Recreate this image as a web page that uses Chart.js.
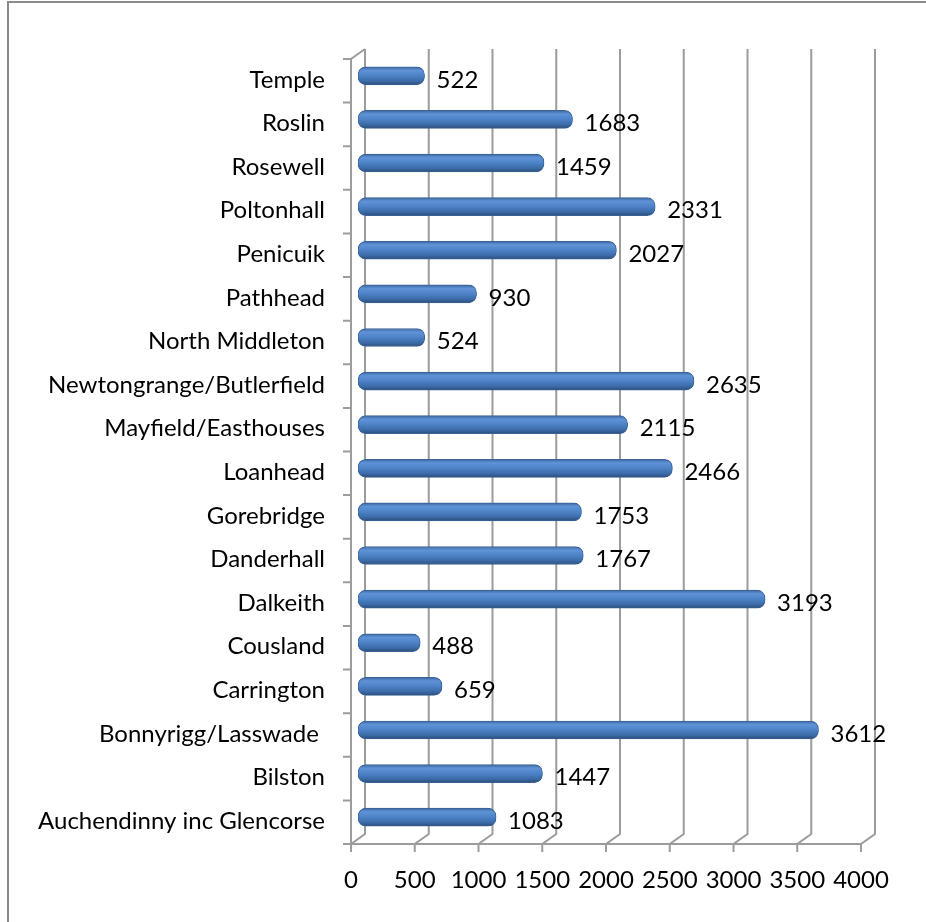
<!DOCTYPE html>
<html>
<head>
<meta charset="utf-8">
<script src="https://cdn.jsdelivr.net/npm/chart.js@4/dist/chart.umd.min.js"></script>
<style>
  html, body { margin: 0; padding: 0; background: #fff; }
  #wrap { width: 926px; height: 922px; position: relative; }
</style>
</head>
<body>
<div id="wrap"><canvas id="myChart" width="926" height="922"></canvas></div>
<script>
const places = ['Temple', 'Roslin', 'Rosewell', 'Poltonhall', 'Penicuik', 'Pathhead', 'North Middleton',
    'Newtongrange/Butlerfield', 'Mayfield/Easthouses', 'Loanhead', 'Gorebridge', 'Danderhall', 'Dalkeith',
    'Cousland', 'Carrington', 'Bonnyrigg/Lasswade ', 'Bilston', 'Auchendinny inc Glencorse'];
const counts = [522, 1683, 1459, 2331, 2027, 930, 524, 2635, 2115, 2466, 1753, 1767, 3193, 488, 659, 3612, 1447, 1083];
const xTicks = [0, 500, 1000, 1500, 2000, 2500, 3000, 3500, 4000];

const FONT = 'Lato, "Open Sans", sans-serif';
const FONT_SIZE = 24;
const DEPTH_X = 7, DEPTH_Y = 5;   // half depth of the 3d box

// back wall, floor and front axis lines of the 3d look
const boxPlugin = {
    id: 'box',
    beforeDatasetsDraw(chart) {
        const {ctx, chartArea: a, scales: {x, y}} = chart;
        ctx.save();
        // frame round the whole chart
        ctx.strokeStyle = '#8a8a8a';
        ctx.lineWidth = 2;
        ctx.strokeRect(8, 2, 940, 960);

        ctx.strokeStyle = '#9c9c9c';
        ctx.lineWidth = 2;
        ctx.beginPath();
        xTicks.forEach(v => {
            const px = x.getPixelForValue(v);
            ctx.moveTo(px + DEPTH_X, a.top - DEPTH_Y);
            ctx.lineTo(px + DEPTH_X, a.bottom - DEPTH_Y);
            ctx.lineTo(px - DEPTH_X, a.bottom + DEPTH_Y);
            ctx.lineTo(px - DEPTH_X, a.bottom + DEPTH_Y + 8);
        });
        const f0 = x.getPixelForValue(0) - DEPTH_X;
        const f1 = x.getPixelForValue(4000) - DEPTH_X;
        // front axes
        ctx.moveTo(f0 + 2 * DEPTH_X, a.top - DEPTH_Y);
        ctx.lineTo(f0, a.top + DEPTH_Y);
        ctx.lineTo(f0, a.bottom + DEPTH_Y);
        ctx.lineTo(f1, a.bottom + DEPTH_Y);
        // category ticks
        const band = (a.bottom - a.top) / places.length;
        for (let i = 0; i <= places.length; i++) {
            const py = a.top + DEPTH_Y + i * band;
            ctx.moveTo(f0 - 8, py);
            ctx.lineTo(f0, py);
        }
        ctx.stroke();
        ctx.restore();
    },
    afterDatasetsDraw(chart) {
        const {ctx, scales: {x, y}} = chart;
        ctx.save();
        ctx.font = FONT_SIZE + 'px ' + FONT;
        ctx.fillStyle = '#000';
        ctx.textBaseline = 'middle';
        ctx.textAlign = 'left';
        counts.forEach((v, i) => {
            ctx.fillText(String(v), x.getPixelForValue(v) + 12, y.getPixelForValue(i) + 4);
        });
        ctx.restore();
    }
};

function barFill(c) {
    const chart = c.chart;
    if (!chart.chartArea) return '#4f81bd';
    const yc = chart.scales.y.getPixelForValue(c.dataIndex);
    const g = chart.ctx.createLinearGradient(0, yc - 9, 0, yc + 9);
    g.addColorStop(0, '#3d679e');
    g.addColorStop(0.2, '#5f93d8');
    g.addColorStop(0.5, '#4d82c6');
    g.addColorStop(0.8, '#3b6aa6');
    g.addColorStop(1, '#2b4c78');
    return g;
}

const ctx = document.getElementById('myChart').getContext('2d');
new Chart(ctx, {
    type: 'bar',
    data: {
        labels: places,
        datasets: [{
            data: counts,
            backgroundColor: barFill,
            borderColor: '#3a6296',
            borderWidth: 1,
            borderSkipped: false,
            borderRadius: 8,
            barThickness: 18
        }]
    },
    options: {
        indexAxis: 'y',
        responsive: false,
        animation: false,
        layout: { padding: { left: 0, right: 58, top: 54, bottom: 23 } },
        plugins: { legend: { display: false }, tooltip: { enabled: false } },
        scales: {
            x: {
                min: 0,
                max: 4000,
                afterFit: s => { s.height = 60; },
                grid: { display: false, drawTicks: false },
                border: { display: false },
                ticks: {
                    stepSize: 500,
                    callback: v => String(v),
                    labelOffset: -DEPTH_X,
                    padding: 27,
                    color: '#000',
                    font: { family: FONT, size: FONT_SIZE }
                }
            },
            y: {
                afterFit: s => { s.width = 358; },
                grid: { display: false, drawTicks: false },
                border: { display: false },
                ticks: {
                    labelOffset: 4,
                    padding: 33,
                    autoSkip: false,
                    color: '#000',
                    font: { family: FONT, size: FONT_SIZE }
                }
            }
        }
    },
    plugins: [boxPlugin]
});
</script>
</body>
</html>
